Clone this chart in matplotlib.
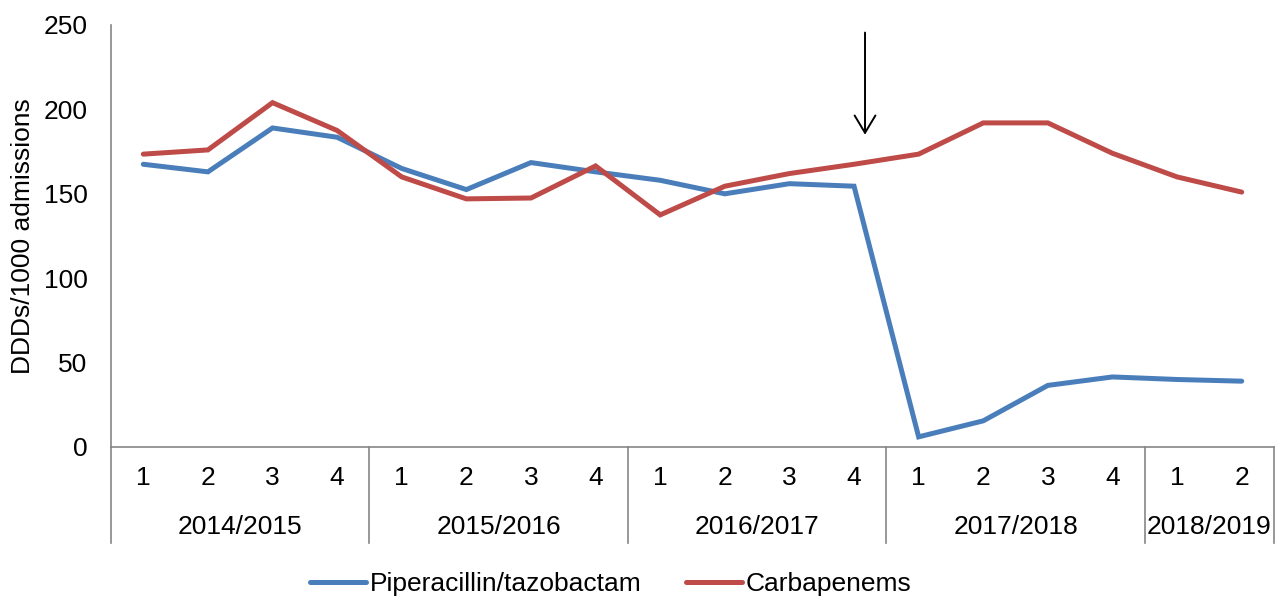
import matplotlib.pyplot as plt
from matplotlib.transforms import blended_transform_factory

plt.rcParams["font.family"] = ["Liberation Sans", "DejaVu Sans"]

years = ["2014/2015", "2015/2016", "2016/2017", "2017/2018", "2018/2019"]
quarters_per_year = [4, 4, 4, 4, 2]
quarter_labels = ["1", "2", "3", "4"] * 4 + ["1", "2"]

pip_taz = [167.5, 163, 189, 183.5, 165, 152.5, 168.5, 163, 158, 150, 156, 154.5,
           6, 15.5, 36.5, 41.5, 40, 39]
carbapenems = [173.5, 176, 204, 187.5, 160, 147, 147.5, 166.5, 137.5, 154.5, 162, 167.5,
               173.5, 192, 192, 174, 160, 151]

intervention_q = 11.17

grey = "#868686"
fs = 19

fig = plt.figure(figsize=(12.77, 5.96), dpi=100)
ax = fig.add_axes([111 / 1277, 1 - 447 / 596, (1274 - 111) / 1277, (447 - 25) / 596])

x = list(range(len(pip_taz)))
ax.plot(x, pip_taz, color="#4A7EBB", lw=3.6, label="Piperacillin/tazobactam",
        solid_capstyle="round", solid_joinstyle="miter")
ax.plot(x, carbapenems, color="#BE4B48", lw=3.6, label="Carbapenems",
        solid_capstyle="round", solid_joinstyle="miter")

ax.set_xlim(-0.5, len(x) - 0.5)
ax.set_ylim(0, 250)
ax.set_yticks([0, 50, 100, 150, 200, 250])
ax.tick_params(axis="y", length=0, pad=17, labelsize=fs)
ax.set_xticks([])

for side in ("top", "right"):
    ax.spines[side].set_visible(False)
for side in ("left", "bottom"):
    ax.spines[side].set_color(grey)
    ax.spines[side].set_linewidth(1.2)

ax.set_ylabel("DDDs/1000 admissions", fontsize=fs, labelpad=6)

# two-level category axis: quarter numbers, then season labels with dividers
trans = blended_transform_factory(ax.transData, ax.transAxes)
h = 422.0
for xi, q in zip(x, quarter_labels):
    ax.text(xi, -31 / h, q, transform=trans, ha="center", va="center", fontsize=fs)

start = 0
bounds = [-0.5]
for yr, n in zip(years, quarters_per_year):
    mid = start + (n - 1) / 2
    ax.text(mid, -80 / h, yr, transform=trans, ha="center", va="center", fontsize=fs)
    start += n
    bounds.append(start - 0.5)
for b in bounds:
    ax.plot([b, b], [0, -96 / h], transform=trans, color=grey, lw=1.2, clip_on=False)

# arrow marking the intervention
ax.annotate("", xy=(intervention_q, 185), xytext=(intervention_q, 245.5),
            arrowprops=dict(arrowstyle="->, head_length=0.5, head_width=0.3",
                            color="black", lw=1.4, mutation_scale=25,
                            shrinkA=0, shrinkB=0))

fig.legend(loc="center", bbox_to_anchor=(0.4785, 1 - 584 / 596), ncol=2,
           frameon=False, fontsize=fs, handlelength=2.1, handletextpad=0.15,
           columnspacing=1.7)

fig.savefig("out.png", dpi=100)
